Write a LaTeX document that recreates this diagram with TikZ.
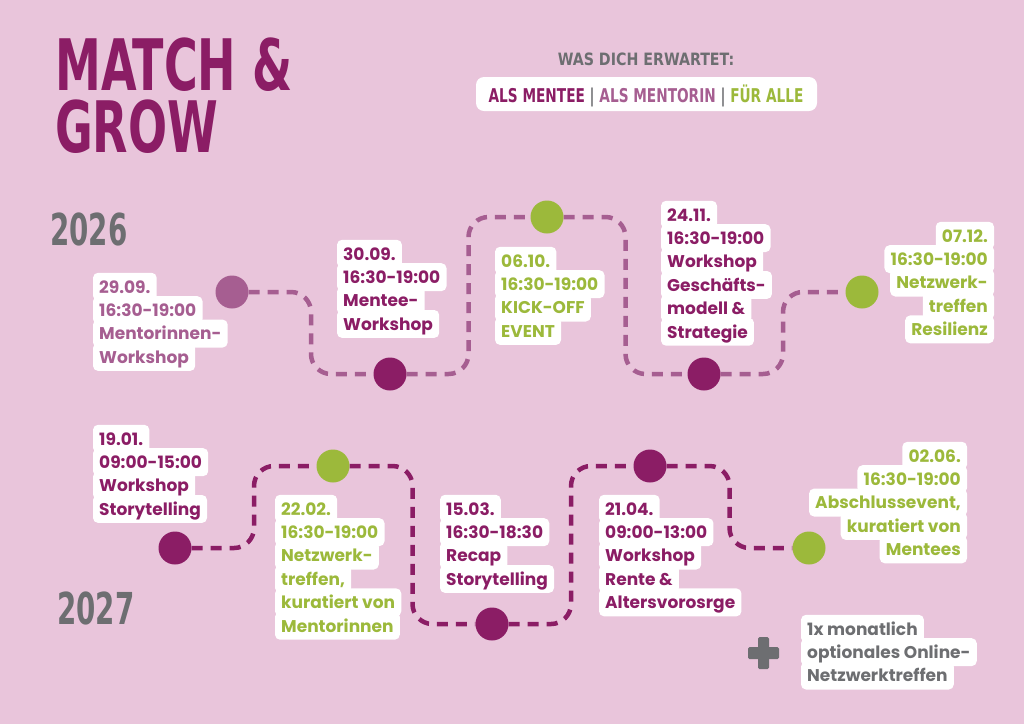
\documentclass[tikz,border=0pt]{standalone}
\usepackage{fontspec}
\usepackage{graphicx}
\usetikzlibrary{calc}
\setmainfont{Poppins}
\newfontfamily\condfont{DejaVu Sans Condensed}
\definecolor{bgpink}{HTML}{E9C5DB}
\definecolor{mag}{HTML}{8B1D65}
\definecolor{mauve}{HTML}{A65E91}
\definecolor{lime}{HTML}{9CB93B}
\definecolor{greyc}{HTML}{6D6E71}
\pgfdeclarelayer{bg}
\pgfdeclarelayer{mid}
\pgfsetlayers{bg,mid,main}
\newcommand\cond[3]{{\condfont\bfseries\fontsize{#1}{#1}\selectfont\scalebox{#2}[1]{#3}}}
\newcommand\evlabel[6]{%
 \foreach \t [count=\i from 0] in {#6} {%
   \pgfmathsetmacro\yy{#4+\i*23.4}%
   \node[linetext,anchor=#2,text=#5] (#1-\i) at (#3,\yy) {\t};
   \begin{pgfonlayer}{bg}
     \fill[white,rounded corners=5pt] ([xshift=-6pt]#1-\i.north west) rectangle ([xshift=6pt]#1-\i.south east);
   \end{pgfonlayer}
 }}
\tikzset{
  linetext/.style={inner sep=0pt,text height=20pt,text depth=7.5pt,
    font=\bfseries\fontsize{17}{18}\selectfont},
  dot/.style={circle,minimum size=33pt,inner sep=0pt,fill=#1},
  toppath/.style={draw=mauve,line width=4.5pt,dash pattern=on 11pt off 8pt,rounded corners=20pt},
  botpath/.style={draw=mag,line width=4.5pt,dash pattern=on 11pt off 8pt,rounded corners=20pt},
  titletext/.style={anchor=base west,inner sep=0pt,align=left,
    font=\condfont\bfseries\fontsize{71}{62}\selectfont},
}
\begin{document}
\begin{tikzpicture}[x=1pt,y=-1pt]
\begin{pgfonlayer}{bg}
\fill[bgpink] (0,0) rectangle (1024,724);
\end{pgfonlayer}
\useasboundingbox (0,0) rectangle (1024,724);

% title
\node[titletext,text=mag] (title) at (55,152) {\scalebox{0.72}[1]{MATCH \&}\\\scalebox{0.72}[1]{GROW}};
\node[anchor=base west,inner sep=0pt,text=greyc] (y26) at (50,245) {\cond{44}{0.7}{2026}};
\node[anchor=base west,inner sep=0pt,text=greyc] (y27) at (57,624) {\cond{44}{0.7}{2027}};

% legend
\node[anchor=base,inner sep=0pt,text=greyc] (was) at (646,65) {\cond{17}{0.93}{WAS DICH ERWARTET:}};
\fill[white,rounded corners=8pt] (476,77) rectangle (817,111);
\node[anchor=base,inner sep=0pt] (leg) at (646,102) {\cond{19}{0.8}{\textcolor{mag}{ALS MENTEE}\ \textcolor{greyc}{|}\ \textcolor{mauve}{ALS MENTORIN}\ \textcolor{greyc}{|}\ \textcolor{lime}{FÜR ALLE}}};

% dots
\node[dot=mauve] (c1) at (232,292) {};
\node[dot=mag]   (c2) at (390,374) {};
\node[dot=lime]  (c3) at (547,217) {};
\node[dot=mag]   (c4) at (704,374) {};
\node[dot=lime]  (c5) at (862,292) {};
\node[dot=mag]   (c6) at (175,548) {};
\node[dot=lime]  (c7) at (333,466) {};
\node[dot=mag]   (c8) at (492,624) {};
\node[dot=mag]   (c9) at (650,466) {};
\node[dot=lime]  (c10) at (809,548) {};

\begin{pgfonlayer}{mid}
\foreach \a/\b/\s in {c1/c2/toppath,c2/c3/toppath,c3/c4/toppath,c4/c5/toppath,
                       c6/c7/botpath,c7/c8/botpath,c8/c9/botpath,c9/c10/botpath}{
  \coordinate (m-\a) at ($(\a)!0.5!(\b)$);
  \draw[\s] (\a) -- (\a -| m-\a) -- (\b -| m-\a) -- (\b);
}
\end{pgfonlayer}

% labels
\evlabel{l1}{base west}{99}{293}{mauve}{29.09.,16:30-19:00,Mentorinnen-,Workshop}
\evlabel{l2}{base west}{343}{260}{mag}{30.09.,16:30-19:00,Mentee-,Workshop}
\evlabel{l3}{base west}{501}{267}{lime}{06.10.,16:30-19:00,KICK-OFF,EVENT}
\evlabel{l4}{base west}{667}{221}{mag}{24.11.,16:30-19:00,Workshop,Geschäfts-,modell \&,Strategie}
\evlabel{l5}{base east}{988}{242}{lime}{07.12.,16:30-19:00,Netzwerk-,treffen,Resilienz}
\evlabel{l6}{base west}{99}{445}{mag}{19.01.,09:00-15:00,Workshop,Storytelling}
\evlabel{l7}{base west}{281}{515}{lime}{22.02.,16:30-19:00,Netzwerk-,{treffen,},kuratiert von,Mentorinnen}
\evlabel{l8}{base west}{446}{515}{mag}{15.03.,16:30-18:30,Recap,Storytelling}
\evlabel{l9}{base west}{605}{515}{mag}{21.04.,09:00-13:00,Workshop,Rente \&,Altersvorosrge}
\evlabel{l10}{base east}{961}{462}{lime}{02.06.,16:30-19:00,{Abschlussevent,},kuratiert von,Mentees}
\evlabel{l11}{base west}{807}{635}{greyc}{1x monatlich,optionales Online-,Netzwerktreffen}

% plus
\fill[greyc,rounded corners=1.5pt] (748,647) rectangle (779,659);
\fill[greyc,rounded corners=1.5pt] (758,637) rectangle (769,669);
\end{tikzpicture}
\end{document}
